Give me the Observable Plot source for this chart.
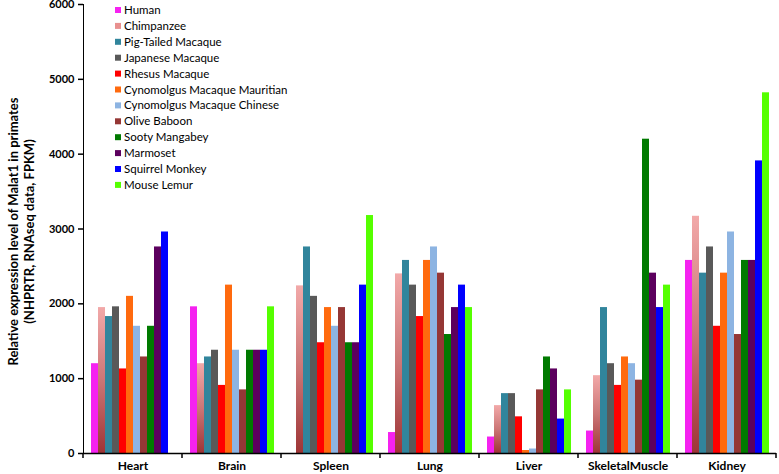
<!DOCTYPE html>
<html>
<head>
<meta charset="utf-8">
<script src="https://cdn.jsdelivr.net/npm/d3@7"></script>
<script src="https://cdn.jsdelivr.net/npm/@observablehq/plot@0.6"></script>
<style>
  html, body { margin: 0; padding: 0; background: #fff; }
  #chart { width: 779px; height: 474px; }
</style>
</head>
<body>
<div id="chart"></div>
<script>
const organs = ["Heart", "Brain", "Spleen", "Lung", "Liver", "SkeletalMuscle", "Kidney"];
const species = ["Human", "Chimpanzee", "Pig-Tailed Macaque", "Japanese Macaque", "Rhesus Macaque",
  "Cynomolgus Macaque Mauritian", "Cynomolgus Macaque Chinese", "Olive Baboon", "Sooty Mangabey",
  "Marmoset", "Squirrel Monkey", "Mouse Lemur"];
const speciesColors = ["#f522f0", "#e8908f", "#31859c", "#595959", "#ff0000", "#ff6a0e",
  "#8db4e2", "#953735", "#007a00", "#5c005e", "#0000ff", "#55ff00"];
const yTicks = [0, 1000, 2000, 3000, 4000, 5000, 6000];

// values per species, in organ order
const human              = [1200, 1960,    0,  280,  220,  300, 2580];
const chimpanzee         = [1950, 1200, 2240, 2400,  640, 1040, 3170];
const pigTailedMacaque   = [1830, 1290, 2760, 2580,  800, 1950, 2410];
const japaneseMacaque    = [1960, 1380, 2100, 2250,  800, 1200, 2760];
const rhesusMacaque      = [1130,  910, 1480, 1830,  490,  910, 1700];
const cynoMauritian      = [2100, 2250, 1950, 2580,   40, 1290, 2410];
const cynoChinese        = [1700, 1380, 1700, 2760,   60, 1200, 2960];
const oliveBaboon        = [1290,  850, 1950, 2410,  850,  980, 1590];
const sootyMangabey      = [1700, 1380, 1480, 1590, 1290, 4200, 2580];
const marmoset           = [2760, 1380, 1480, 1950, 1130, 2410, 2580];
const squirrelMonkey     = [2960, 1380, 2250, 2250,  460, 1950, 3910];
const mouseLemur         = [   0, 1960, 3180, 1950,  850, 2250, 4820];

const series = [human, chimpanzee, pigTailedMacaque, japaneseMacaque, rhesusMacaque, cynoMauritian,
  cynoChinese, oliveBaboon, sootyMangabey, marmoset, squirrelMonkey, mouseLemur];

const data = [];
organs.forEach((organ, oi) => {
  species.forEach((sp, si) => data.push({organ, species: sp, value: series[si][oi]}));
});

const barFills = speciesColors.map((c, i) => i === 1 ? "url(#chimpGrad)" : c);
const FONT = "Lato, 'Open Sans', sans-serif";

const plot = Plot.plot({
  width: 779,
  height: 474,
  marginLeft: 80,
  marginRight: 0,
  marginTop: 4,
  marginBottom: 21,
  style: {fontFamily: FONT, fontSize: "11px", color: "#000", background: "#fff"},
  fx: {domain: organs, padding: 0, axis: "bottom", tickSize: 0, tickPadding: 8, label: null},
  x: {domain: species, paddingInner: 0, paddingOuter: 0.71, axis: null},
  y: {domain: [0, 6000], ticks: yTicks, tickSize: 5, tickPadding: 4, line: true, label: null, tickFormat: d3.format("d")},
  color: {domain: species, range: barFills},
  marks: [
    Plot.barY(data, {fx: "organ", x: "species", y: "value", fill: "species"}),
    Plot.ruleY([0], {stroke: "#000", strokeWidth: 1.5})
  ]
});

const svg = d3.select(plot);

// gradient for chimpanzee bars
const defs = svg.insert("defs", ":first-child");
const grad = defs.append("linearGradient").attr("id", "chimpGrad")
  .attr("x1", 0).attr("y1", 0).attr("x2", 0).attr("y2", 1);
grad.append("stop").attr("offset", "0%").attr("stop-color", "#f2a9a9");
grad.append("stop").attr("offset", "50%").attr("stop-color", "#cc7676");
grad.append("stop").attr("offset", "100%").attr("stop-color", "#9e3536");

// bold tick labels
svg.selectAll("[aria-label^='y-axis'] text").attr("font-weight", "bold").attr("font-size", 11);
svg.selectAll("[aria-label^='fx-axis'] text").attr("font-weight", "bold").attr("font-size", 12);
svg.selectAll("[aria-label^='y-axis'] path, [aria-label^='y-axis'] line").attr("stroke", "#000").attr("stroke-width", 1.5);

// category boundary ticks on the x axis
const fxs = plot.scale("fx");
const ys = plot.scale("y");
const y0 = ys.apply(0);
const bounds = organs.map(o => fxs.apply(o)).concat([fxs.apply(organs[organs.length - 1]) + fxs.bandwidth]);
svg.append("g").selectAll("line").data(bounds).join("line")
  .attr("x1", d => d).attr("x2", d => d)
  .attr("y1", y0).attr("y2", y0 + 5)
  .attr("stroke", "#000").attr("stroke-width", 1.5);

// y axis title, centred on the plot area
const yMid = (ys.apply(0) + ys.apply(6000)) / 2 + 3;
const title = svg.append("text")
  .attr("transform", `translate(0,${yMid}) rotate(-90)`)
  .attr("text-anchor", "middle")
  .attr("font-weight", "bold")
  .attr("font-size", 13)
  .attr("font-family", FONT);
title.append("tspan").attr("x", 0).attr("y", 18).text("Relative expression level of Malat1 in primates");
title.append("tspan").attr("x", 0).attr("y", 34).text("(NHPRTR, RNAseq data, FPKM)");

// legend
const lg = svg.append("g").attr("font-family", FONT).attr("font-size", 11.5).attr("text-anchor", "start");
species.forEach((sp, i) => {
  const cy = 10 + i * 15.9;
  lg.append("rect").attr("x", 115).attr("y", cy - 3).attr("width", 6).attr("height", 6).attr("fill", speciesColors[i]);
  lg.append("text").attr("x", 124).attr("y", cy).attr("dy", "0.35em").attr("text-anchor", "start").text(sp);
});

document.getElementById("chart").appendChild(plot);
</script>
</body>
</html>
